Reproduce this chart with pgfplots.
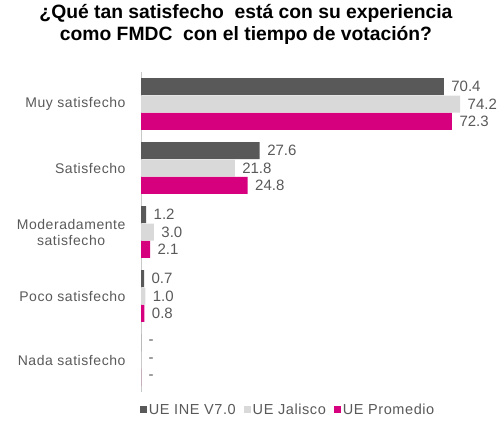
\documentclass[border=0pt]{standalone}
\usepackage{fontspec}
\setmainfont{Liberation Sans}
\newfontfamily\spaced[LetterSpace=4]{Liberation Sans}
\usepackage{pgfplots}
\pgfplotsset{compat=1.18}
\usetikzlibrary{calc}
\definecolor{ineGris}{RGB}{89,89,89}
\definecolor{jalGris}{RGB}{217,217,217}
\definecolor{promRosa}{RGB}{214,0,127}
\definecolor{txtGris}{RGB}{89,89,89}
\definecolor{ejeGris}{RGB}{200,200,200}

% cat = row of the category (0 = Muy satisfecho), lab = text shown at the end of the bar
\pgfplotstableread{
cat val lab
0 70.4 70.4
1 27.6 27.6
2 1.2 1.2
3 0.7 0.7
4 0 -
}\ineV
\pgfplotstableread{
cat val lab
0 74.2 74.2
1 21.8 21.8
2 3.0 3.0
3 1.0 1.0
4 0 -
}\jalisco
\pgfplotstableread{
cat val lab
0 72.3 72.3
1 24.8 24.8
2 2.1 2.1
3 0.8 0.8
4 0 -
}\promedio

\begin{document}
\begin{tikzpicture}
\begin{axis}[
	name=ax,
	scale only axis,
	width=357pt, height=320pt,
	xbar, bar width=17pt,
	xmin=0, xmax=83,
	ymin=-0.5, ymax=4.5,
	y dir=reverse,
	axis x line=none,
	axis y line*=left,
	y axis line style={ejeGris, line width=0.8pt, -},
	ytick={0,1,2,3,4},
	yticklabels={Muy satisfecho, Satisfecho, {Moderadamente\\satisfecho}, Poco satisfecho, Nada satisfecho},
	major tick length=0pt,
	yticklabel style={font=\spaced\fontsize{14}{16}\selectfont, text=txtGris, align=center, xshift=-12pt},
	point meta=explicit symbolic,
	nodes near coords,
	nodes near coords style={font=\fontsize{15}{17}\selectfont, text=txtGris, anchor=west, xshift=4pt},
	title={¿Qué tan satisfecho\ \ está con su experiencia\\como FMDC\ \ con el tiempo de votación?},
	title style={at={(0.294,1.131)}, anchor=center, align=center, font=\bfseries\fontsize{19.3}{22}\selectfont},
	legend columns=-1,
	legend style={at={(0.412,-0.056)}, anchor=center, draw=none, font=\spaced\fontsize{14.5}{16}\selectfont, text=txtGris,
		inner sep=0pt, /tikz/every even column/.append style={column sep=6pt}},
	legend image code/.code={\fill[#1] (0pt,-3.5pt) rectangle (7pt,3.5pt);},
]
\addplot [fill=ineGris, draw=none, bar shift=17.3pt] table [x=val, y=cat, meta=lab] {\ineV};
\addplot [fill=jalGris, draw=none, bar shift=0pt] table [x=val, y=cat, meta=lab] {\jalisco};
\addplot [fill=promRosa, draw=none, bar shift=-17.3pt] table [x=val, y=cat, meta=lab] {\promedio};
\legend{UE INE V7.0, UE Jalisco, UE Promedio}
\end{axis}
\pgfresetboundingbox
\path ($(ax.south west)+(-141pt,-29pt)$) rectangle ($(ax.north east)+(0pt,72pt)$);
\end{tikzpicture}
\end{document}
